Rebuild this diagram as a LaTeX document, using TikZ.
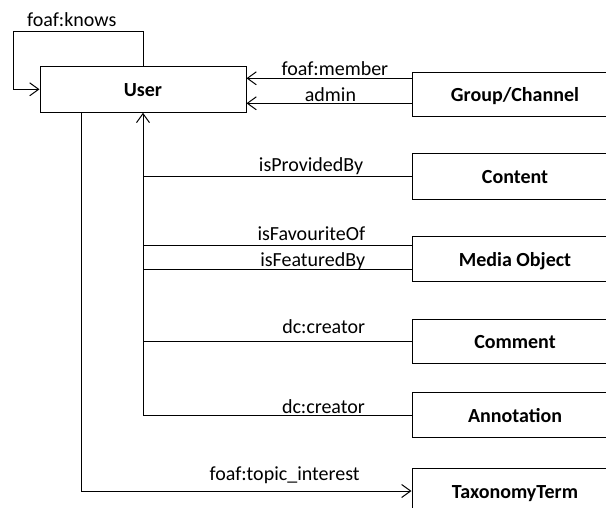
\documentclass[tikz,border=0pt]{standalone}
\usepackage{fontspec}
\setmainfont{Carlito}
\usetikzlibrary{arrows.meta}

\begin{document}
\begin{tikzpicture}[x=1pt, y=-1pt, line width=1pt, >={Straight Barb[length=9pt,width=13pt]},
        box/.style={draw, minimum width=206pt, inner sep=0pt, text height=14pt, text depth=0pt, font=\fontsize{20}{24}\selectfont\bfseries},
        lbl/.style={anchor=base, inner sep=0pt, font=\fontsize{20}{24}\selectfont}]

            \useasboundingbox (0,0) rectangle (606,507);

            \node[box, minimum height=46pt] (user) at (143,89.3) {User};
            \node[box, minimum height=44pt] (group) at (515,94) {Group/Channel};
            \node[box, minimum height=46pt] (content) at (515,176) {Content};
            \node[box, minimum height=45pt] (media) at (515,259.2) {Media Object};
            \node[box, minimum height=44pt] (comment) at (515,341.5) {Comment};
            \node[box, minimum height=45pt] (annotation) at (515,415.3) {Annotation};
            \node[box, minimum height=46pt] (taxonomy) at (515,491) {TaxonomyTerm};

            \coordinate (k) at ([xshift=-26pt,yshift=58.3pt]user.west);
            \coordinate (m1) at ([yshift=15.7pt]group.west);
            \coordinate (m2) at ([yshift=-9.3pt]group.west);
            \coordinate (f1) at ([yshift=14.2pt]media.west);
            \coordinate (f2) at ([yshift=-10.1pt]media.west);

            \draw[->] (user.north) |- (k) node[lbl, pos=.775, yshift=4.3pt] {foaf:knows} |- (user.west);
            \draw[->] (m1) -- (m1 -| user.east) node[lbl, pos=.464, yshift=3.3pt] {foaf:member};
            \draw[->] (m2) -- (m2 -| user.east) node[lbl, pos=.491, yshift=2.3pt] {admin};
            \draw (content.west) -- (content.west -| user.south) node[lbl, pos=.374, yshift=4.3pt] {isProvidedBy};
            \draw (f1) -- (f1 -| user.south) node[lbl, pos=.373, yshift=5pt] {isFavouriteOf};
            \draw (f2) -- (f2 -| user.south) node[lbl, pos=.368, yshift=3.3pt] {isFeaturedBy};
            \draw (comment.west) -- (comment.west -| user.south) node[lbl, pos=.327, yshift=8.3pt] {dc:creator};
            \draw[->] (annotation.west) -| (user.south) node[lbl, pos=.164, yshift=2.3pt] {dc:creator};
            \draw[->] ([xshift=-62pt]user.south) |- (taxonomy.west) node[lbl, pos=.808, yshift=11pt] {foaf:topic\_interest};

        \end{tikzpicture}
\end{document}
